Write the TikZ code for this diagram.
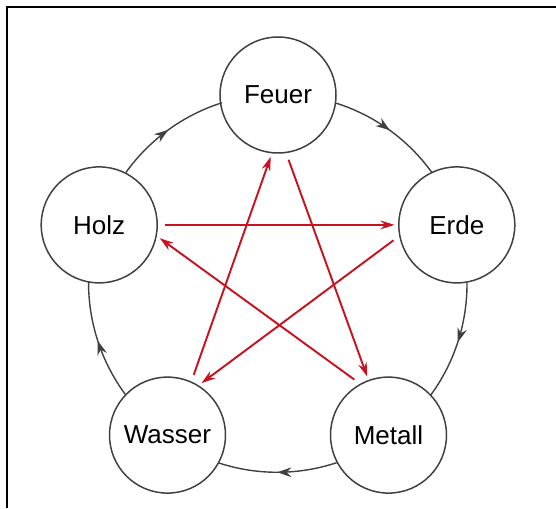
\documentclass[tikz,border=0pt]{standalone}
\usepackage{fontspec}
\setmainfont{Liberation Sans}
\usetikzlibrary{arrows.meta,decorations.markings}
\definecolor{kered}{RGB}{200,18,32}

\begin{document}
\begin{tikzpicture}[x=1.0cm,y=1.0cm,
  element/.style={draw=black!75,line width=0.85pt,circle,minimum size=2.32cm,inner sep=0pt,font=\fontsize{14.8}{17}\selectfont},
  shengarc/.style={draw=black!75,line width=0.8pt,postaction={decorate},
    decoration={markings,mark=at position 0.5 with {\arrow{Stealth[length=8pt,width=5.5pt]}}}},
  kearrow/.style={draw=kered,line width=1.1pt,-{Stealth[length=8pt,width=5pt]},shorten <=4pt,shorten >=2pt}]
% Frame
\useasboundingbox (-5.56,-4.5) rectangle (5.56,5.66);
\draw[line width=1.4pt] (-5.42,-4.5) -- (-5.42,5.52) -- (5.56,5.52);
% Elements
\node[element] (feuer) at (90:3.76) {Feuer};
\node[element] (erde) at (18:3.76) {Erde};
\node[element] (metall) at (-54:3.76) {Metall};
\node[element] (wasser) at (-126:3.76) {Wasser};
\node[element] (holz) at (162:3.76) {Holz};
% Outer cycle, clockwise from each element to the next
\foreach \a/\ang [evaluate=\ang as \anc using \ang-98.8, evaluate=\ang as \st using \ang-17.6]
    in {feuer/90,erde/18,metall/-54,wasser/-126,holz/162}
  \draw[shengarc] (\a.\anc) arc[start angle=\st, delta angle=-36.8, radius=3.76];
% Star
\draw[kearrow] (holz.0) -- (erde.180);
\draw[kearrow] (erde.191) -- (wasser.58);
\draw[kearrow] (wasser.66) -- (feuer.264);
\draw[kearrow] (feuer.278) -- (metall.110);
\draw[kearrow] (metall.119) -- (holz.-11);
\end{tikzpicture}
\end{document}
